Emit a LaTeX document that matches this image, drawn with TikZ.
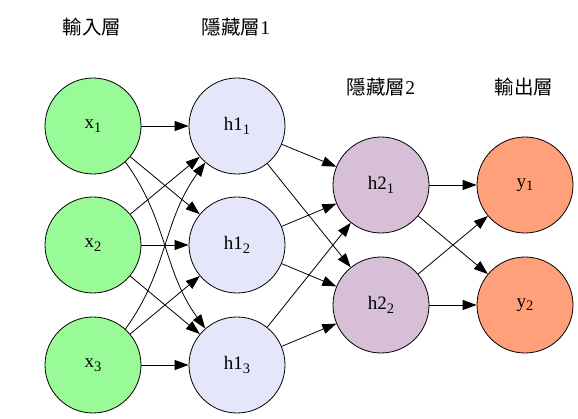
\documentclass[tikz,border=0pt]{standalone}
\usepackage{fontspec}
\setmainfont{Liberation Serif}
\newfontfamily\cjk{Noto Sans CJK TC}
\usetikzlibrary{arrows.meta}
\definecolor{palegrn}{HTML}{98FB98}
\definecolor{lavndr}{HTML}{E6E6FA}
\definecolor{thistl}{HTML}{D8BFD8}
\definecolor{salmn}{HTML}{FFA07A}
\newcommand{\lowidx}[1]{\raisebox{-0.4ex}{\fontsize{14.5}{14.5}\selectfont #1}}

\begin{document}
\begin{tikzpicture}[x=1pt, y=-1pt,
		neuron/.style={circle, draw, line width=0.8pt, minimum size=96pt, inner sep=0pt, font=\fontsize{19}{22}\selectfont},
		conn/.style={-{Triangle[length=14pt,width=10pt]}, line width=0.8pt},
		layername/.style={font=\fontsize{19.5}{22}\selectfont}]
			%%%%% FRAME %%%%%
			\useasboundingbox (0, 0) rectangle (578, 419);
			
			%%%%% LAYER NAMES %%%%%
			\node[layername] (tin) at (92, 27) {\cjk 輸入層};
			\node[layername] (thone) at (236, 27) {{\cjk 隱藏層}1};
			\node[layername] (thtwo) at (381, 87) {{\cjk 隱藏層}2};
			\node[layername] (tout) at (524, 87) {\cjk 輸出層};
			
			%%%%% NEURONS %%%%%
			\node[neuron, fill=palegrn] (x1) at (93, 126) {x\lowidx{1}};
			\node[neuron, fill=palegrn] (x2) at (93, 245) {x\lowidx{2}};
			\node[neuron, fill=palegrn] (x3) at (93, 365) {x\lowidx{3}};
			
			\node[neuron, fill=lavndr] (h11) at (237, 126) {h1\lowidx{1}};
			\node[neuron, fill=lavndr] (h12) at (237, 245) {h1\lowidx{2}};
			\node[neuron, fill=lavndr] (h13) at (237, 365) {h1\lowidx{3}};
			
			\node[neuron, fill=thistl] (h21) at (381, 185) {h2\lowidx{1}};
			\node[neuron, fill=thistl] (h22) at (381, 305) {h2\lowidx{2}};
			
			\node[neuron, fill=salmn] (y1) at (525, 185) {y\lowidx{1}};
			\node[neuron, fill=salmn] (y2) at (525, 305) {y\lowidx{2}};
			
			%%%%% INPUT -> HIDDEN 1 %%%%%
			\draw[conn] (x1) -- (h11);
			\draw[conn] (x1) -- (h12);
			\draw[conn] (x1.-48) to[out=-54, in=126] (h13.131);
			\draw[conn] (x2) -- (h11);
			\draw[conn] (x2) -- (h12);
			\draw[conn] (x2) -- (h13);
			\draw[conn] (x3.48) to[out=54, in=-126] (h11.-131);
			\draw[conn] (x3) -- (h12);
			\draw[conn] (x3) -- (h13);
			
			%%%%% HIDDEN 1 -> HIDDEN 2 %%%%%
			\draw[conn] (h11) -- (h21);
			\draw[conn] (h11) -- (h22);
			\draw[conn] (h12) -- (h21);
			\draw[conn] (h12) -- (h22);
			\draw[conn] (h13) -- (h21);
			\draw[conn] (h13) -- (h22);
			
			%%%%% HIDDEN 2 -> OUTPUT %%%%%
			\draw[conn] (h21) -- (y1);
			\draw[conn] (h21) -- (y2);
			\draw[conn] (h22) -- (y1);
			\draw[conn] (h22) -- (y2);
			
		\end{tikzpicture}
\end{document}
